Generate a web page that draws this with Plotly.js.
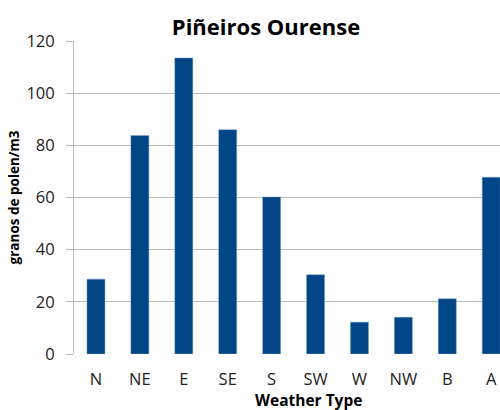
<!DOCTYPE html>
<html>
<head>
<meta charset="utf-8">
<script src="https://cdn.plot.ly/plotly-3.0.1.min.js"></script>
<style>html,body{margin:0;padding:0;background:#fff;}#chart{width:500px;height:410px;}</style>
</head>
<body>
<div id="chart"></div>
<script>
var categories = ["N", "NE", "E", "SE", "S", "SW", "W", "NW", "B", "A"];
var values = [28.7, 83.8, 113.5, 86.0, 60.2, 30.4, 12.2, 14.1, 21.2, 67.8];
var yTicks = [0, 20, 40, 60, 80, 100, 120];

var trace = {
  type: "bar",
  x: categories,
  y: values,
  marker: {color: "#004586", line: {color: "rgba(120,160,210,0.7)", width: 0.6}},
  hoverinfo: "none"
};

var layout = {
  width: 500,
  height: 410,
  margin: {l: 74, r: 0, t: 41, b: 56},
  paper_bgcolor: "#ffffff",
  plot_bgcolor: "#ffffff",
  bargap: 0.59,
  showlegend: false,
  title: {
    text: "<b>Piñeiros Ourense</b>",
    font: {family: "Open Sans, Liberation Sans, sans-serif", size: 22, color: "#000"},
    x: 0.532, xanchor: "center",
    y: 0.934, yanchor: "middle", yref: "container"
  },
  xaxis: {
    type: "category",
    range: [-0.5, 9.2],
    showgrid: false,
    showline: false,
    ticks: "",
    tickfont: {family: "Open Sans, Liberation Sans, sans-serif", size: 16.5, color: "#222"},
    ticklabelstandoff: 13,
    zeroline: false
  },
  yaxis: {
    range: [0, 120],
    tickvals: yTicks,
    ticktext: yTicks.map(String),
    showgrid: true,
    gridcolor: "#bdbdbd",
    gridwidth: 1,
    showline: true,
    linecolor: "#bdbdbd",
    linewidth: 1,
    ticks: "outside",
    ticklen: 7,
    tickcolor: "#bdbdbd",
    tickfont: {family: "Open Sans, Liberation Sans, sans-serif", size: 16.5, color: "#222"},
    ticklabelstandoff: 8,
    zeroline: false,
    title: {
      text: "<b>granos de polen/m3</b>",
      font: {family: "Open Sans, Liberation Sans, sans-serif", size: 13.5, color: "#000"},
      standoff: 3
    }
  },
  annotations: [{
    text: "<b>Weather Type</b>",
    xref: "paper", yref: "paper",
    x: (308 - 74) / 426, y: -(400 - 354) / 313,
    xanchor: "center", yanchor: "middle",
    showarrow: false,
    font: {family: "Open Sans, Liberation Sans, sans-serif", size: 15.5, color: "#000"}
  }]
};

Plotly.newPlot("chart", [trace], layout, {displayModeBar: false, staticPlot: true});
</script>
</body>
</html>
